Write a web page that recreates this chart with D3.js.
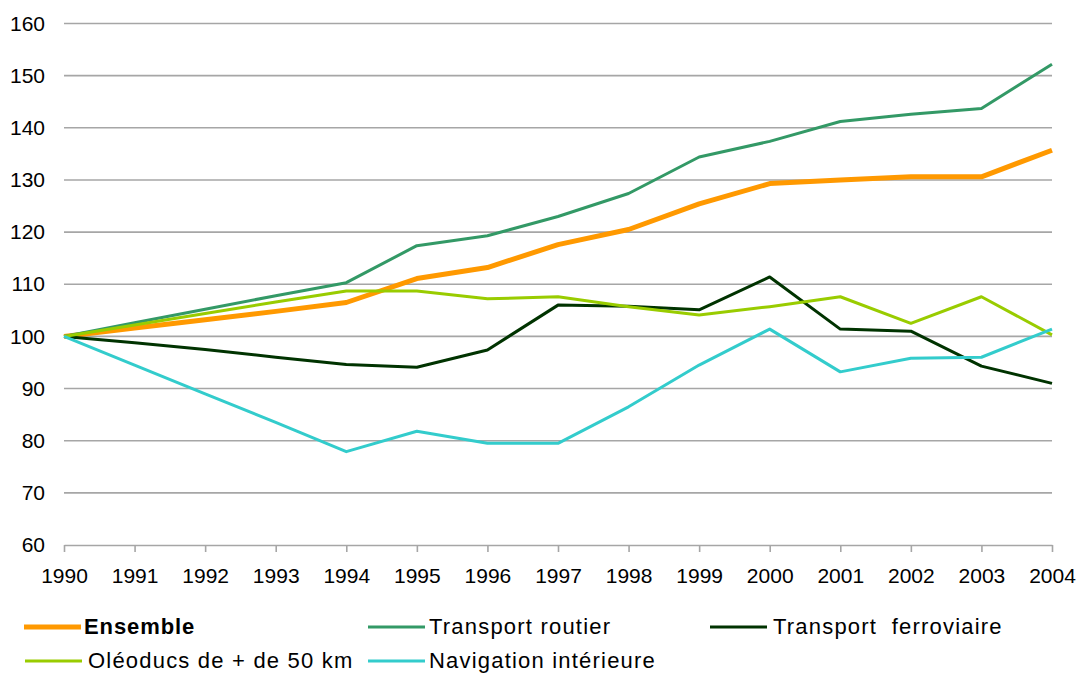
<!DOCTYPE html>
<html>
<head>
<meta charset="utf-8">
<script src="https://cdn.jsdelivr.net/npm/d3@7"></script>
<style>
  body { margin: 0; background: #fff; }
  text { font-family: "Liberation Sans", Arial, sans-serif; fill: #000; }
</style>
</head>
<body>
<div id="chart"></div>
<script>
// data
var years = [1990, 1991, 1992, 1993, 1994, 1995, 1996, 1997, 1998, 1999, 2000, 2001, 2002, 2003, 2004];
var yTicks = [60, 70, 80, 90, 100, 110, 120, 130, 140, 150, 160];

var ensemble    = [100, 101.6, 103.2, 104.8, 106.5, 111.1, 113.2, 117.6, 120.5, 125.4, 129.3, 130.0, 130.6, 130.6, 135.7];
var routier     = [100, 102.6, 105.2, 107.8, 110.3, 117.4, 119.3, 123.0, 127.4, 134.4, 137.4, 141.2, 142.6, 143.7, 152.2];
var ferroviaire = [100, 98.8, 97.5, 96.0, 94.6, 94.1, 97.4, 106.0, 105.8, 105.1, 111.4, 101.4, 101.0, 94.3, 91.0];
var oleoducs    = [100, 102.2, 104.4, 106.6, 108.7, 108.7, 107.2, 107.6, 105.7, 104.1, 105.7, 107.6, 102.5, 107.6, 100.3];
var navigation  = [100, 94.5, 89.0, 83.5, 77.9, 81.8, 79.5, 79.5, 86.5, 94.5, 101.4, 93.2, 95.8, 96.0, 101.4];

var seriesNames = ["Ensemble", "Transport routier", "Transport  ferroviaire", "Oléoducs de + de 50 km", "Navigation intérieure"];
var seriesColors = ["#ff9900", "#339966", "#003300", "#99cc00", "#33cccc"];
var seriesData = [ensemble, routier, ferroviaire, oleoducs, navigation];

var svgWidth = 1076;
var svgHeight = 675;

var margins = { top: 23.5, right: 24, bottom: 130, left: 64 };
var width = svgWidth - margins.left - margins.right;
var height = svgHeight - margins.top - margins.bottom;

var svg = d3.select("#chart")
  .append("svg")
  .attr("width", svgWidth)
  .attr("height", svgHeight);

var chartGroup = svg.append("g")
  .attr("transform", `translate(${margins.left}, ${margins.top})`);

// scales
var xScale = d3.scaleLinear()
  .domain([1990, 2004])
  .range([0, width]);

var yScale = d3.scaleLinear()
  .domain([60, 160])
  .range([height, 0]);

// gridlines
chartGroup.append("g")
  .selectAll("line")
  .data(yTicks.slice(1))
  .enter()
  .append("line")
  .attr("x1", 0)
  .attr("x2", width)
  .attr("y1", d => yScale(d))
  .attr("y2", d => yScale(d))
  .attr("stroke", "#a6a6a6")
  .attr("stroke-width", 1.6);

// y axis labels (no axis line)
var leftAxis = d3.axisLeft(yScale).tickValues(yTicks).tickSize(0).tickPadding(19);
var yAxisG = chartGroup.append("g").call(leftAxis);
yAxisG.select(".domain").remove();
yAxisG.selectAll("text")
  .style("font-size", "21px")
  .style("font-family", "'Liberation Sans', Arial, sans-serif")
  .attr("fill", "#111");

// x axis
var bottomAxis = d3.axisBottom(xScale)
  .tickValues(years)
  .tickFormat(d3.format("d"))
  .tickSize(7)
  .tickSizeOuter(0)
  .tickPadding(16);
var xAxisG = chartGroup.append("g")
  .attr("transform", `translate(0, ${height})`)
  .call(bottomAxis);
xAxisG.select(".domain").attr("stroke", "#a6a6a6").attr("stroke-width", 1.6);
xAxisG.selectAll("line").attr("stroke", "#a6a6a6").attr("stroke-width", 1.6);
xAxisG.selectAll("text")
  .style("font-size", "21px")
  .style("font-family", "'Liberation Sans', Arial, sans-serif")
  .attr("fill", "#111");

// lines
var line = d3.line()
  .x((d, i) => xScale(years[i]))
  .y(d => yScale(d));

seriesData.forEach(function(values, i) {
  chartGroup.append("path")
    .datum(values)
    .attr("d", line)
    .attr("fill", "none")
    .attr("stroke", seriesColors[i])
    .attr("stroke-width", i === 0 ? 5 : 3)
    .attr("stroke-linejoin", "round");
});

// legend
var legendPos = [
  { x: 24, y: 627, tx: 84 },
  { x: 368, y: 627, tx: 429 },
  { x: 710, y: 627, tx: 773 },
  { x: 25, y: 661, tx: 88 },
  { x: 368, y: 661, tx: 429 }
];

var legend = svg.append("g");
seriesNames.forEach(function(name, i) {
  var p = legendPos[i];
  legend.append("line")
    .attr("x1", p.x)
    .attr("x2", p.x + 57)
    .attr("y1", p.y)
    .attr("y2", p.y)
    .attr("stroke", seriesColors[i])
    .attr("stroke-width", i === 0 ? 5 : 3);
  legend.append("text")
    .attr("x", p.tx)
    .attr("y", p.y)
    .attr("dy", "0.33em")
    .style("font-size", "22px")
    .style("letter-spacing", i === 0 ? "0.9px" : "1.2px")
    .style("font-weight", i === 0 ? "bold" : "normal")
    .style("white-space", "pre")
    .attr("fill", "#111")
    .text(name);
});
</script>
</body>
</html>
